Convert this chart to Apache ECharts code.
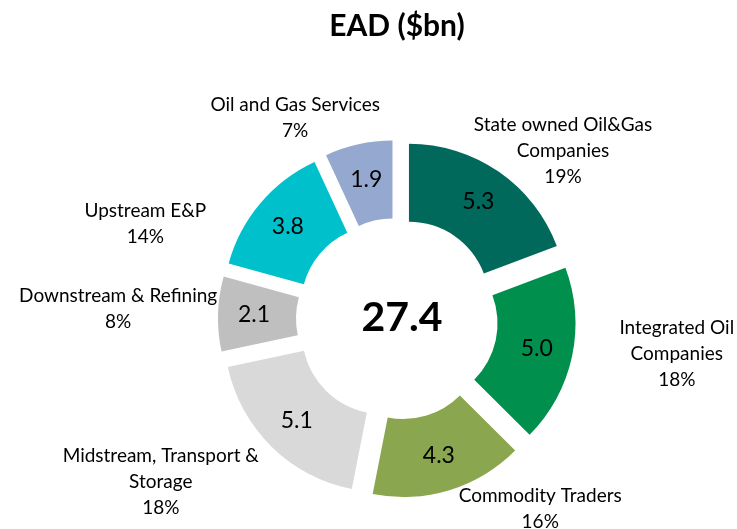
<!DOCTYPE html>
<html>
<head>
<meta charset="utf-8">
<script src="https://cdn.jsdelivr.net/npm/echarts@6/dist/echarts.min.js"></script>
<style>
  html, body { margin: 0; padding: 0; background: #fff; }
  #pie-chart { width: 737px; height: 529px; }
</style>
</head>
<body>
<div id="pie-chart"></div>
<script>
const categories = ['State owned Oil&Gas\nCompanies', 'Integrated Oil\nCompanies', 'Commodity Traders',
  'Midstream, Transport &\nStorage', 'Downstream & Refining', 'Upstream E&P', 'Oil and Gas Services']
const values = [5.3, 5.0, 4.3, 5.1, 2.1, 3.8, 1.9]
const percents = [19, 18, 16, 18, 8, 14, 7]
const total = '27.4'

const colors = ['#00695b', '#008f4c', '#8aa64e', '#d9d9d9', '#bfbfbf', '#00c0cc', '#95a9d0']
// where each name label sits round the pie: angle clockwise from 12 o'clock (deg) and distance (px)
const labelAngle = [44.7, 97.2, 143, 235.4, 272, 290.7, 333.1]
const labelDist = [236, 282, 238, 287, 279, 269, 225]

const font = 'Lato'
const center = [397, 319]
const radius = [80, 158]

let myChart = echarts.init(document.getElementById('pie-chart'))
let option = {
  animation: false,
  title: [
    {
      text: 'EAD ($bn)',
      left: 392,
      top: 6,
      textAlign: 'center',
      textStyle: {fontFamily: font, fontWeight: 'bold', fontSize: 30, color: '#000'}
    },
    {
      text: total,
      left: center[0],
      top: center[1] - 27,
      textAlign: 'center',
      textStyle: {fontFamily: font, fontWeight: 'bold', fontSize: 41, color: '#000'}
    }
  ],
  series: [
    {
      name: 'values',
      type: 'pie',
      center: center,
      radius: radius,
      startAngle: 90,
      selectedMode: 'multiple',
      selectedOffset: 21,
      silent: true,
      label: {
        position: 'inside',
        formatter: p => p.value.toFixed(1),
        fontFamily: font,
        fontSize: 23,
        color: '#000'
      },
      labelLine: {show: false},
      data: values.map((v, i) => ({
        name: categories[i],
        value: v,
        selected: true,
        itemStyle: {color: colors[i]}
      }))
    },
    {
      name: 'names',
      type: 'pie',
      center: center,
      radius: radius,
      startAngle: 90,
      silent: true,
      itemStyle: {color: 'rgba(0,0,0,0)'},
      label: {
        position: 'outside',
        formatter: p => p.name + '\n' + percents[p.dataIndex] + '%',
        fontFamily: font,
        fontSize: 19,
        lineHeight: 26,
        overflow: 'none',
        color: '#000'
      },
      labelLine: {show: false},
      labelLayout: params => {
        const i = params.dataIndex
        const a = labelAngle[i] * Math.PI / 180
        return {
          x: center[0] + Math.sin(a) * labelDist[i],
          y: center[1] - Math.cos(a) * labelDist[i],
          align: 'center',
          verticalAlign: 'middle'
        }
      },
      data: values.map((v, i) => ({name: categories[i], value: v}))
    }
  ]
}
myChart.setOption(option)
</script>
</body>
</html>
